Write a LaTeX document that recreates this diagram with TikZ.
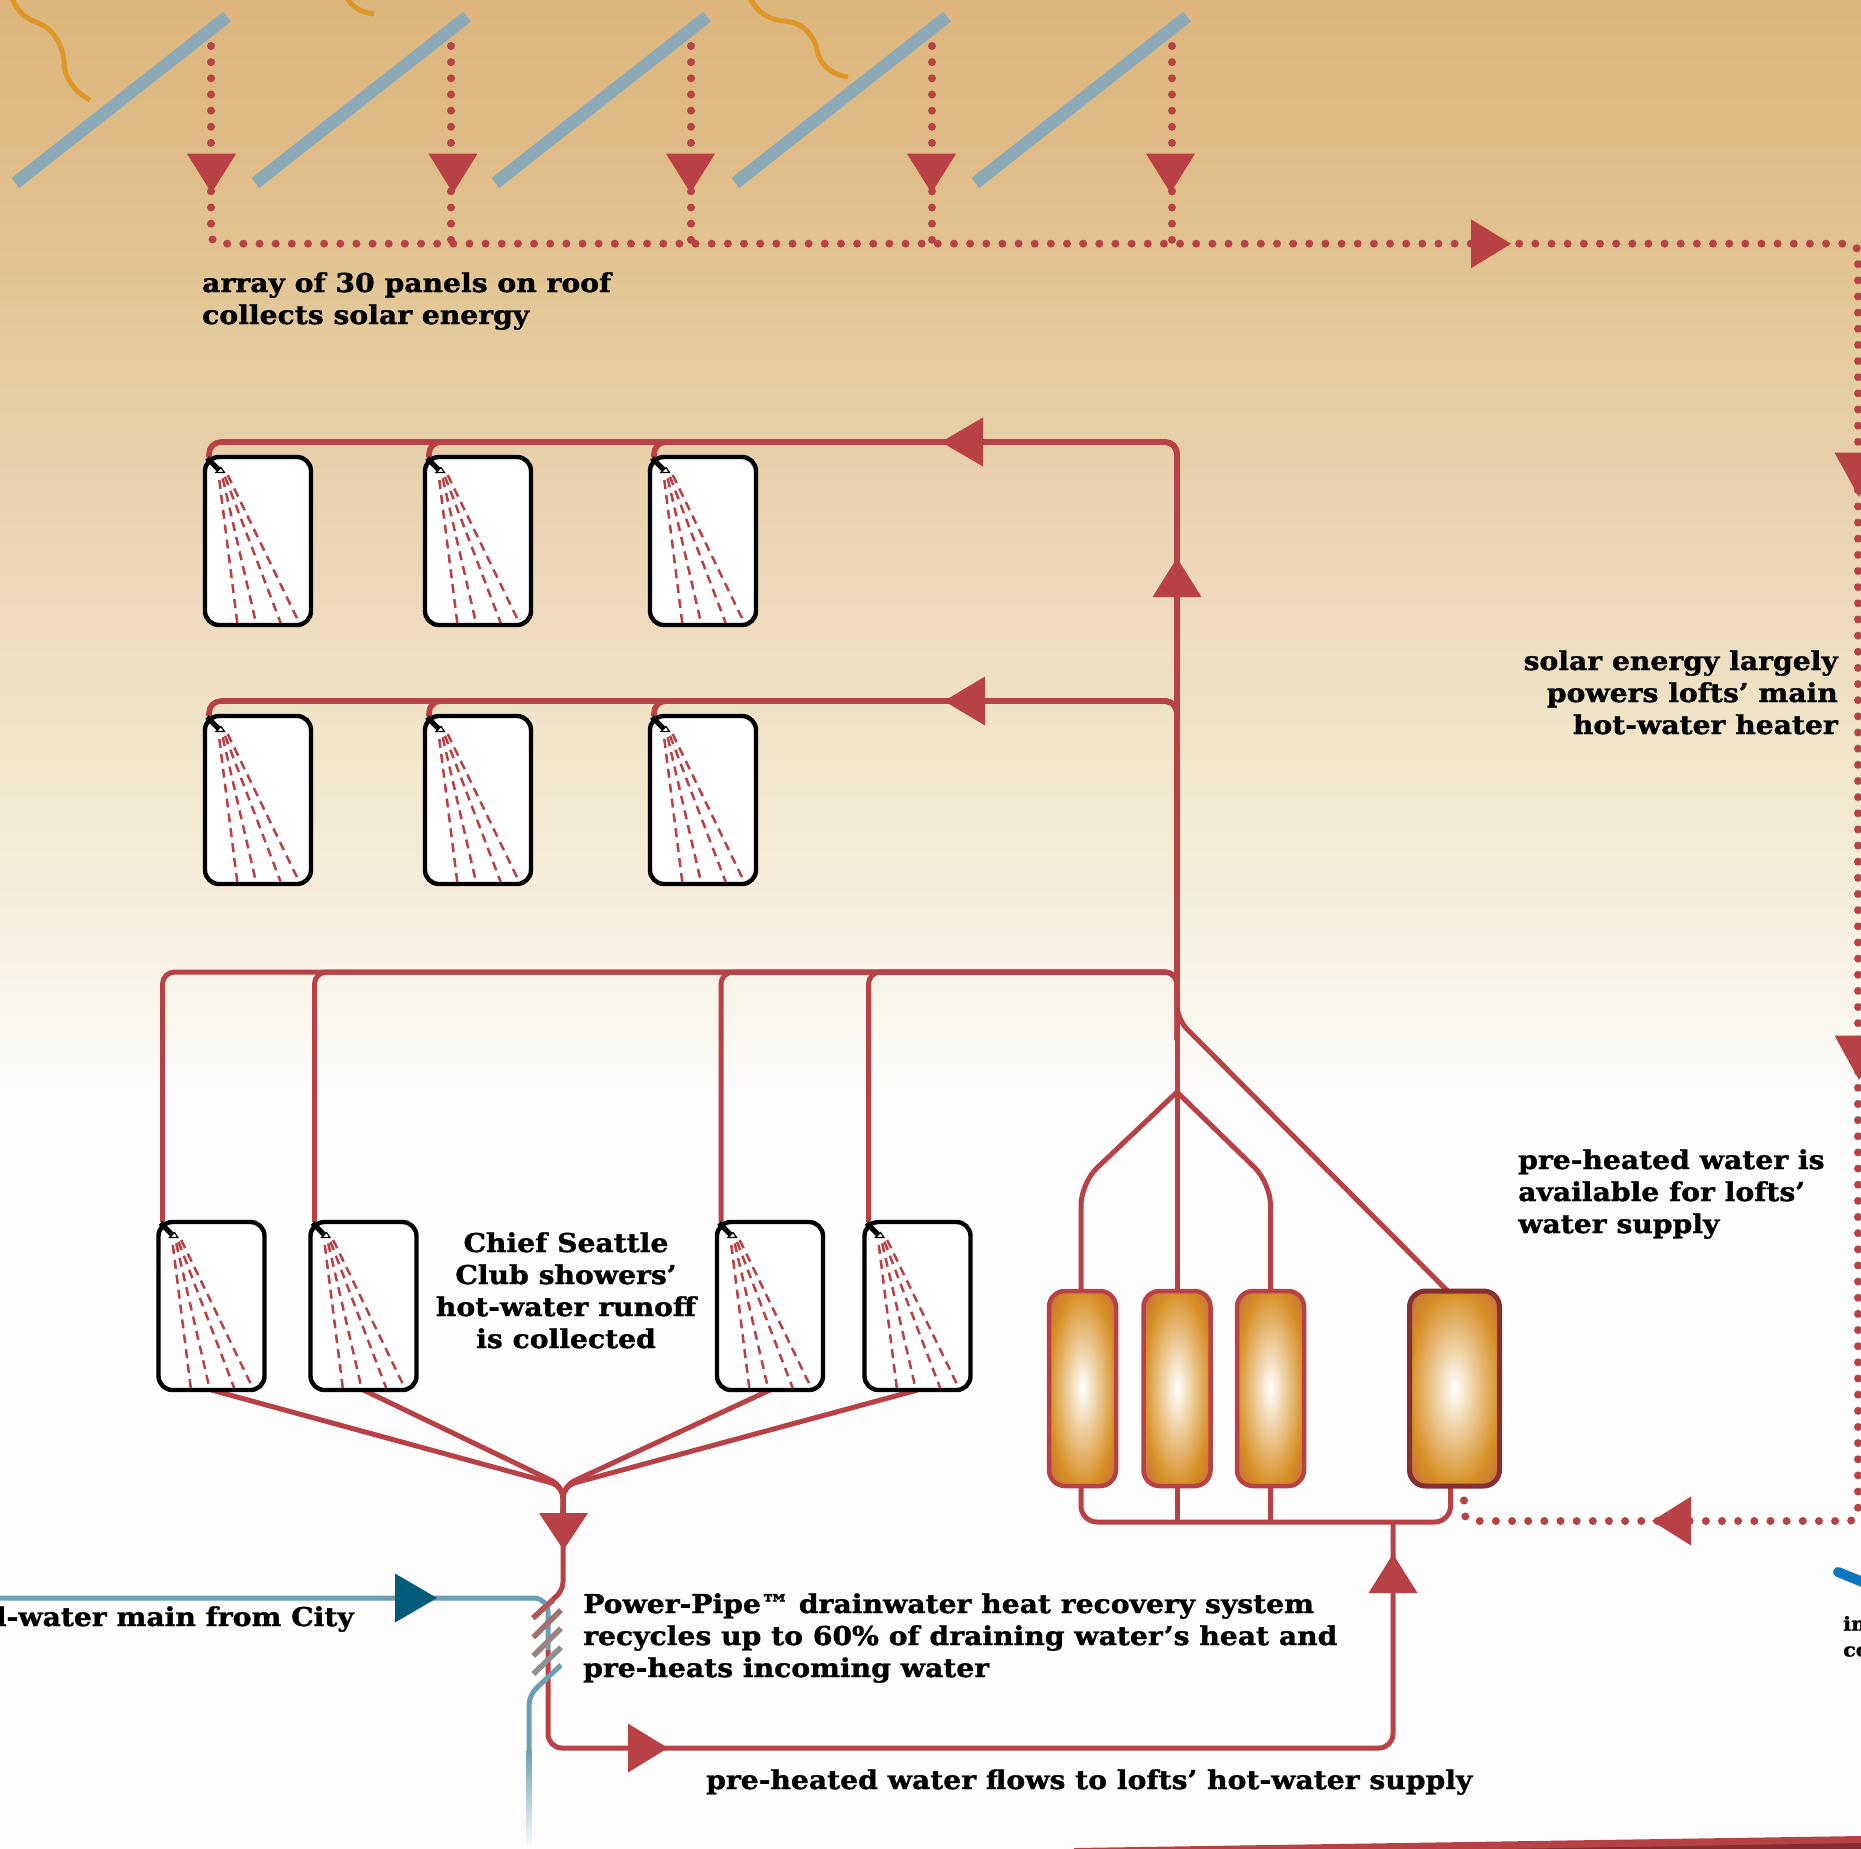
\documentclass[tikz,border=0pt]{standalone}
\usepackage{fontspec}
\newfontfamily\labfont{DejaVu Serif}[BoldFeatures={FakeBold=1.3,FakeStretch=1.085}]
\definecolor{pipe}{HTML}{B84146}
\definecolor{pipedark}{HTML}{852F30}
\definecolor{panelblue}{HTML}{8CA9B8}
\definecolor{sunorange}{HTML}{DD9627}
\definecolor{waterblue}{HTML}{6B9FB5}
\definecolor{tealarrow}{HTML}{005C7A}
\definecolor{stubblue}{HTML}{0877BE}
\definecolor{h1}{HTML}{B0595A}
\definecolor{h2}{HTML}{A0716E}
\definecolor{h3}{HTML}{988583}
\definecolor{h4}{HTML}{8E8F93}
\definecolor{b0}{HTML}{DCB67C}\definecolor{b1}{HTML}{DFBB85}\definecolor{b2}{HTML}{E1C28F}
\definecolor{b3}{HTML}{E4CC9E}\definecolor{b4}{HTML}{E7D0A8}\definecolor{b5}{HTML}{EED9BC}
\definecolor{b6}{HTML}{F1E6CA}\definecolor{b7}{HTML}{F5EEDB}\definecolor{b8}{HTML}{F9F5EA}\definecolor{b9}{HTML}{FDFDFD}
\definecolor{tk1}{HTML}{F0D7AF}
\definecolor{tk2}{HTML}{D78F25}
\definecolor{tk3}{HTML}{C8743A}
\pgfdeclareradialshading{tankshade}{\pgfpoint{0bp}{0bp}}{
 color(0bp)=(white);
 color(9bp)=(tk1);
 color(25bp)=(tk2);
 color(33bp)=(tk3);
 color(50bp)=(tk3)}
\pgfdeclarelayer{bglayer}
\pgfdeclarelayer{pipes}
\pgfsetlayers{bglayer,pipes,main}
\tikzset{
 pipeline/.style={draw=pipe,line width=5pt,line join=round},
 dotline/.style={draw=pipe,line width=8pt,line cap=round,dash pattern=on 0pt off 16.15pt},
 panel/.style={draw=panelblue,line width=12.5pt},
 sunray/.style={draw=sunorange,line width=5pt},
 showerbox/.style={draw=black,fill=white,line width=4.4pt,rounded corners=14pt,minimum width=106pt,minimum height=168pt,inner sep=0pt,outer sep=0pt,anchor=north west},
 spray/.style={draw=pipe,line width=2.5pt,dash pattern=on 9pt off 6pt},
 tank/.style={draw=pipe,line width=4.5pt,rounded corners=16pt,shading=tankshade,inner sep=0pt,outer sep=0pt,anchor=north west},
 lab/.style={font=\labfont\bfseries\fontsize{26pt}{32pt}\selectfont,inner sep=0pt,text=black},
}
\newcommand\arrD[3]{\fill[pipe] (#1-24.5,#2)--(#1+24.5,#2)--(#1,#3)--cycle;}
\newcommand\arrH[3]{\fill[pipe] (#2,#1-24.5)--(#2,#1+24.5)--(#3,#1)--cycle;}
\newcommand\shower[3]{%
 \node[showerbox] (#1) at (#2+2,#3+2) {};
 \begin{scope}[shift={(#2,#3)}]
  \draw[spray] (16.3,25)--(34.3,168);
  \draw[spray] (19.7,23.3)--(53,168);
  \draw[spray] (22,21.7)--(77.7,168);
  \draw[spray] (24.7,20)--(96.3,168);
  \draw[black,line width=5pt] (4,3)--(15.3,14.3);
  \draw[black,fill=white,line width=1.2pt] (13,17.5)--(18,12.5)--(21.5,17.5)--cycle;
 \end{scope}}
\newcommand\band[4]{\shade[top color=#3,bottom color=#4] (-1,#1) rectangle (1862,#2);}
\begin{document}
\begin{tikzpicture}[x=1pt,y=-1pt]
\useasboundingbox (0,0) rectangle (1861,1848);
\begin{pgfonlayer}{bglayer}
\band{-1}{120}{b0}{b1}\band{119}{250}{b1}{b2}\band{249}{350}{b2}{b3}\band{349}{450}{b3}{b4}
\band{449}{600}{b4}{b5}\band{599}{750}{b5}{b6}\band{749}{900}{b6}{b7}\band{899}{1000}{b7}{b8}
\band{999}{1096}{b8}{b9}
\fill[b9] (-1,1095) rectangle (1862,1849);
\end{pgfonlayer}

% solar panels
\foreach \i in {0,240,480,720,960}{\draw[panel] (\i+15.4,183)--(\i+227,16.7);}
% sun rays
\draw[sunray] (12,-2) .. controls (17,12) and (27,19) .. (38,23) .. controls (52,28) and (63,44) .. (64,62) .. controls (64,78) and (76,93) .. (90,100);
\draw[sunray] (347,-2) .. controls (352,7) and (362,13) .. (374,14);
\draw[sunray] (750,-2) .. controls (757,12) and (768,20) .. (785,21) .. controls (802,22) and (815,36) .. (817,50) .. controls (819,64) and (832,75) .. (848,77);

% showers
\shower{s11}{203}{455}\shower{s12}{423}{455}\shower{s13}{648}{455}
\shower{s21}{203}{714}\shower{s22}{423}{714}\shower{s23}{648}{714}
\shower{s31}{156.5}{1220}\shower{s32}{308.5}{1220}\shower{s33}{715}{1220}\shower{s34}{862.5}{1220}

% tanks
\node[tank,minimum width=67pt,minimum height=195pt] (t1) at (1049,1291) {};
\node[tank,minimum width=67pt,minimum height=195pt] (t2) at (1143.5,1291) {};
\node[tank,minimum width=67pt,minimum height=195pt] (t3) at (1237,1291) {};
\node[tank,draw=pipedark,line width=5pt,minimum width=90pt,minimum height=195pt] (t4) at (1409.5,1291) {};

\coordinate (r1) at (1177,442);
\coordinate (r2) at (1177,701);
\coordinate (r3) at (1177,972);
\coordinate (yfork) at (1177,1092);
\coordinate (m) at (1177,1522);
\coordinate (join) at (563,1486);
\coordinate (rec) at (1393,1748);
\coordinate (rec0) at (548,1748);

\begin{pgfonlayer}{pipes}
\draw[dotline,rounded corners=9pt] (211,46)--(211,243.7)--(1858,243.7)--(1858,1521)--(1464,1521)--(1464,1489);
\foreach \x in {451,691,932,1172}{\draw[dotline] (\x,46)--(\x,243.7);}

\foreach \a in {s11,s12,s13}{\draw[pipeline,line width=5.6pt,rounded corners=12pt] ([xshift=4pt]\a.north west) |- (r1)--(1177,570);}
\foreach \a in {s21,s22,s23}{\draw[pipeline,line width=5.6pt,rounded corners=12pt] ([xshift=4pt]\a.north west) |- (r2)--(1177,760);}
\foreach \a in {s31,s32,s33,s34}{\draw[pipeline,rounded corners=12pt] ([xshift=4pt]\a.north west) |- (r3)--(1177,1040);}
\draw[pipeline,line width=5.6pt] (1177,560)--(1177,1000);
\draw[pipeline] (1177,1000)--(t2.north);
\draw[pipeline,rounded corners=14pt] (1177,990)--(1177,1019)--([xshift=38pt]t4.north west);
\draw[pipeline,rounded corners=22pt] ([xshift=-1.5pt]t1.north)--(1081,1183)--(yfork);
\draw[pipeline,rounded corners=22pt] (t3.north)--(1270.5,1183)--(yfork);
\draw[pipeline,rounded corners=16pt] ([xshift=-1.5pt]t1.south)|-(m)-|([xshift=41pt]t4.south west);
\draw[pipeline] (m)--(t2.south);
\draw[pipeline] (t3.south)--(1270.5,1522);
\draw[pipeline,rounded corners=14pt] (1393,1522)--(rec)--(rec0)--(548,1650);

\draw[pipeline,rounded corners=12pt] (s31.south)--(join)--(563,1520);
\draw[pipeline,rounded corners=12pt] (s32.south)--(join)--(563,1520);
\draw[pipeline,rounded corners=12pt] (s33.south)--(join)--(563,1520);
\draw[pipeline,rounded corners=12pt] (s34.south)--(join)--(563,1520);
\draw[pipeline,rounded corners=8pt] (563,1510)--(563,1590)--(533,1618);

% cold water
\draw[draw=waterblue,line width=5pt,rounded corners=14pt] (0,1598)--(548,1598)--(548,1650);
\draw[draw=waterblue,line width=5pt,rounded corners=10pt] (561,1665)--(529,1695)--(529,1752);
\shade[top color=waterblue,bottom color=b9] (526.5,1750) rectangle (531.5,1848);
\draw[h2,line width=5.5pt] (533.3,1637.3)--(561,1610);
\draw[h3,line width=5.5pt] (533.3,1656)--(561,1628.3);
\draw[h4,line width=5.5pt] (533.3,1674)--(561,1647.3);
\draw[h1,line width=5.5pt] (533,1618)--(553,1600);
\end{pgfonlayer}

% arrows
\arrD{211.5}{153.7}{193}\arrD{453}{153.7}{193}\arrD{690.5}{153.7}{193}\arrD{931.5}{153.7}{193}\arrD{1170.5}{153.7}{193}
\arrH{243.8}{1471}{1511}
\arrD{1859}{452.7}{497}\arrD{1859}{1035.5}{1080}
\arrH{1521}{1691}{1652}
\arrH{442}{983}{941}\arrH{701}{985}{944}
\arrD{1177}{597}{558}
\arrD{563.5}{1513}{1550}
\arrD{1393}{1593}{1554}
\arrH{1748}{628}{668}
\fill[tealarrow] (395,1573.5)--(395,1622.5)--(437,1598)--cycle;

% bottom edge
\fill[pipe] (1074,1848)--(1861,1836)--(1861,1849)--(1074,1849)--cycle;
\fill[pipedark] (1500,1849)--(1861,1843)--(1861,1849)--cycle;
% blue stub at the right
\draw[draw=stubblue,line width=10pt,line cap=round] (1838,1572)--(1875,1587);

% labels
\node[lab,align=left,anchor=base west] (l1) at (202,324) {array of 30 panels on roof\\collects solar energy};
\node[lab,align=right,anchor=base east] (l2) at (1838,734) {solar energy largely\\powers lofts’ main\\hot-water heater};
\node[lab,align=left,anchor=base west] (l3) at (1518,1233) {pre-heated water is\\available for lofts’\\water supply};
\node[lab,align=center,anchor=base] (l4) at (566,1348) {Chief Seattle\\Club showers’\\hot-water runoff\\is collected};
\node[lab,anchor=base east] (l5) at (354,1626) {l-water main from City};
\node[lab,align=left,anchor=base west] (l6) at (583,1677) {Power-Pipe™ drainwater heat recovery system\\recycles up to 60\% of draining water’s heat and\\pre-heats incoming water};
\node[lab,anchor=base west] (l7) at (706,1789) {pre-heated water flows to lofts’ hot-water supply};
\node[lab,align=left,anchor=base west,font=\labfont\bfseries\fontsize{19pt}{26pt}\selectfont] (l8) at (1843,1656.5) {in\\co};
\end{tikzpicture}
\end{document}
